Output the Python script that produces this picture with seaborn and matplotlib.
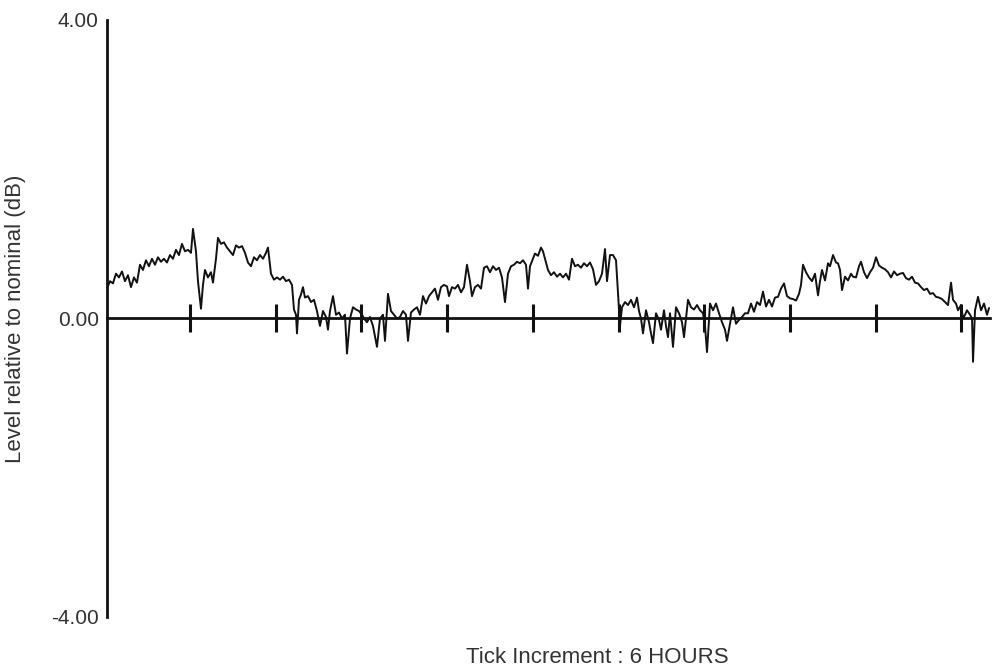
import numpy as np
import pandas as pd
import matplotlib
matplotlib.use("Agg")
import matplotlib.pyplot as plt
import seaborn as sns

# time in hours
hours = [
    0.19, 0.40, 0.61, 0.82, 1.03, 1.24, 1.45, 1.66, 1.87, 2.08, 2.29, 2.50, 2.71, 2.92, 3.13, 3.34,
    3.55, 3.76, 3.97, 4.18, 4.39, 4.60, 4.81, 5.02, 5.23, 5.44, 5.65, 5.86, 6.07, 6.21, 6.42, 6.56,
    6.77, 6.91, 7.05, 7.26, 7.47, 7.61, 7.82, 7.96, 8.17, 8.38, 8.59, 8.80, 9.01, 9.22, 9.43, 9.64,
    9.85, 10.06, 10.27, 10.48, 10.69, 10.90, 11.11, 11.32, 11.46, 11.67, 11.88, 12.09, 12.30, 12.51, 12.72,
    12.93, 13.14, 13.28, 13.42, 13.49, 13.63, 13.77, 13.91, 14.05, 14.26, 14.47, 14.68, 14.89, 15.10, 15.31, 15.52,
    15.66, 15.80, 16.01, 16.22, 16.43, 16.64, 16.85, 16.99, 17.20, 17.41, 17.62, 17.83, 18.04, 18.18, 18.39, 18.60,
    18.81, 19.09, 19.30, 19.51, 19.65, 19.86, 20.07, 20.28, 20.49, 20.70, 20.91, 21.12, 21.26, 21.47, 21.68, 21.89,
    22.10, 22.31, 22.52, 22.73, 22.94, 23.15, 23.36, 23.57, 23.78, 23.99, 24.13, 24.34, 24.55,
    24.76, 24.97, 25.18, 25.39, 25.60, 25.74, 25.95, 26.16, 26.37, 26.58, 26.79, 27.00, 27.21, 27.42, 27.63, 27.84,
    28.05, 28.26, 28.47, 28.68, 28.89, 29.10, 29.31, 29.52, 29.66, 29.80, 30.01, 30.15, 30.36, 30.57, 30.71, 30.85,
    31.06, 31.27, 31.48, 31.69, 31.90, 32.11, 32.32, 32.53, 32.74, 32.95, 33.16, 33.37, 33.58, 33.79, 34.00, 34.21,
    34.42, 34.63, 34.84, 35.05, 35.19, 35.40, 35.61, 35.82, 35.96, 36.10, 36.24, 36.45, 36.66, 36.87, 37.08,
    37.29, 37.43, 37.57, 37.71, 37.92, 38.13, 38.27, 38.41, 38.62, 38.83, 38.97, 39.18, 39.32, 39.46, 39.60, 39.81,
    40.02, 40.23, 40.44, 40.58, 40.86, 41.07, 41.28, 41.49, 41.70, 41.91, 42.05, 42.19, 42.40, 42.61, 42.82, 43.03,
    43.24, 43.45, 43.59, 43.80, 44.01, 44.22, 44.43, 44.64, 44.85, 45.06, 45.27, 45.48, 45.69, 45.90, 46.11, 46.32,
    46.53, 46.74, 46.95, 47.16, 47.37, 47.58, 47.79, 48.00, 48.21, 48.42, 48.63, 48.77, 48.91, 49.12,
    49.33, 49.54, 49.75, 49.96, 50.10, 50.24, 50.45, 50.66, 50.80, 51.01, 51.22, 51.36, 51.50, 51.64, 51.85, 52.06,
    52.27, 52.41, 52.62, 52.83, 52.97, 53.18, 53.39, 53.60, 53.81, 54.02, 54.23, 54.44, 54.65, 54.86, 55.07, 55.28,
    55.49, 55.70, 55.91, 56.12, 56.33, 56.54, 56.75, 56.96, 57.17, 57.38, 57.59, 57.80, 58.01, 58.22, 58.43, 58.64,
    58.85, 59.06, 59.27, 59.41, 59.62, 59.76, 59.97, 60.11, 60.25, 60.39, 60.60, 60.74, 60.81, 60.95, 61.16, 61.37,
    61.58, 61.79, 61.93,
]

# level relative to nominal, dB
level = [
    0.40, 0.50, 0.47, 0.60, 0.55, 0.63, 0.50, 0.58, 0.42, 0.55, 0.48, 0.72, 0.65, 0.78, 0.70, 0.80,
    0.72, 0.82, 0.76, 0.80, 0.75, 0.85, 0.80, 0.92, 0.85, 1.00, 0.90, 0.92, 0.88, 1.20, 0.90, 0.50,
    0.13, 0.45, 0.65, 0.55, 0.62, 0.48, 0.80, 1.08, 1.00, 1.02, 0.95, 0.90, 0.85, 0.98, 0.95, 0.97,
    0.88, 0.75, 0.70, 0.82, 0.78, 0.85, 0.80, 0.88, 0.95, 0.60, 0.52, 0.55, 0.52, 0.56, 0.50,
    0.52, 0.45, 0.12, 0.05, -0.20, 0.25, 0.32, 0.42, 0.28, 0.30, 0.22, 0.25, 0.10, -0.10, 0.10, 0.02,
    -0.15, 0.10, 0.30, 0.05, 0.08, 0.00, 0.05, -0.47, 0.00, 0.15, 0.12, 0.10, 0.05, 0.00, -0.05, 0.02,
    -0.10, -0.38, 0.00, 0.05, -0.30, 0.33, 0.10, 0.05, 0.00, 0.02, 0.10, 0.05, -0.30, 0.08, 0.12, 0.15,
    0.05, 0.30, 0.20, 0.30, 0.35, 0.40, 0.25, 0.42, 0.45, 0.43, 0.30, 0.42, 0.40,
    0.45, 0.35, 0.42, 0.72, 0.50, 0.30, 0.42, 0.45, 0.40, 0.68, 0.70, 0.62, 0.70, 0.65, 0.68, 0.55,
    0.22, 0.60, 0.70, 0.72, 0.76, 0.74, 0.78, 0.72, 0.40, 0.70, 0.80, 0.87, 0.84, 0.95, 0.90, 0.80,
    0.65, 0.58, 0.62, 0.56, 0.60, 0.55, 0.60, 0.52, 0.80, 0.70, 0.72, 0.68, 0.74, 0.70, 0.75, 0.66,
    0.45, 0.50, 0.60, 0.93, 0.50, 0.85, 0.85, 0.78, 0.35, -0.10, 0.15, 0.22, 0.18, 0.25, 0.15,
    0.28, 0.10, 0.00, -0.20, 0.11, -0.05, -0.20, -0.33, 0.07, -0.02, -0.15, 0.11, -0.10, -0.25, 0.07, -0.38,
    0.15, 0.07, -0.05, -0.25, 0.25, 0.15, 0.12, 0.18, 0.11, 0.07, -0.10, -0.45, 0.20, 0.11, 0.20, 0.07,
    -0.05, -0.15, -0.30, -0.07, 0.15, -0.07, -0.02, 0.02, 0.07, 0.07, 0.20, 0.09, 0.22, 0.18, 0.36, 0.16,
    0.25, 0.16, 0.28, 0.29, 0.40, 0.47, 0.30, 0.27, 0.26, 0.24, 0.33, 0.45, 0.72, 0.62,
    0.55, 0.50, 0.60, 0.31, 0.50, 0.65, 0.51, 0.74, 0.70, 0.85, 0.75, 0.74, 0.65, 0.38, 0.56, 0.51,
    0.60, 0.56, 0.55, 0.70, 0.76, 0.62, 0.54, 0.62, 0.68, 0.82, 0.71, 0.68, 0.66, 0.62, 0.55, 0.63,
    0.58, 0.60, 0.61, 0.54, 0.52, 0.56, 0.48, 0.47, 0.42, 0.38, 0.40, 0.33, 0.34, 0.29, 0.28, 0.26,
    0.22, 0.18, 0.48, 0.25, 0.20, 0.11, 0.18, 0.00, 0.05, 0.11, 0.05, 0.00, -0.58, 0.11, 0.29, 0.11,
    0.20, 0.05, 0.14,
]

tick_hours = [6, 12, 18, 24, 30, 36, 42, 48, 54, 60]
y_ticks = [-4, 0, 4]
y_ticklabels = ["-4.00", "0.00", "4.00"]

df = pd.DataFrame({"hours": hours, "level": level})

sns.set_style("white")
plt.rcParams["font.family"] = ["Liberation Sans", "DejaVu Sans"]

fig = plt.figure(figsize=(9.96, 6.66), dpi=100)
ax = fig.add_axes([0.1074, 0.0736, 0.8866, 0.8964])

sns.lineplot(data=df, x="hours", y="level", color="#111111", linewidth=1.4,
             estimator=None, sort=False, ax=ax)

ax.set_xlim(0.19, 62.0)
ax.set_ylim(-4, 4)

# horizontal axis runs through 0 dB, ticks cross it
for s in ["top", "right"]:
    ax.spines[s].set_visible(False)
ax.spines["bottom"].set_position(("data", 0))
ax.spines["bottom"].set_linewidth(2.0)
ax.spines["bottom"].set_color("#111111")
ax.spines["left"].set_linewidth(2.0)
ax.spines["left"].set_color("#111111")

ax.set_xticks(tick_hours)
ax.set_xticklabels([])
ax.tick_params(axis="x", direction="inout", length=20, width=2.2, color="#111111", bottom=True)

ax.set_yticks(y_ticks)
ax.set_yticklabels(y_ticklabels, fontsize=15, color="#333333")
ax.tick_params(axis="y", length=0, pad=6, left=True)

ax.set_xlabel("")
ax.set_ylabel("Level relative to nominal (dB)", fontsize=16, color="#333333", labelpad=18)

fig.text(0.600, 0.0135, "Tick Increment : 6 HOURS", ha="center", va="center",
         fontsize=16, color="#333333")

fig.savefig("out.png", dpi=100, facecolor="white")
